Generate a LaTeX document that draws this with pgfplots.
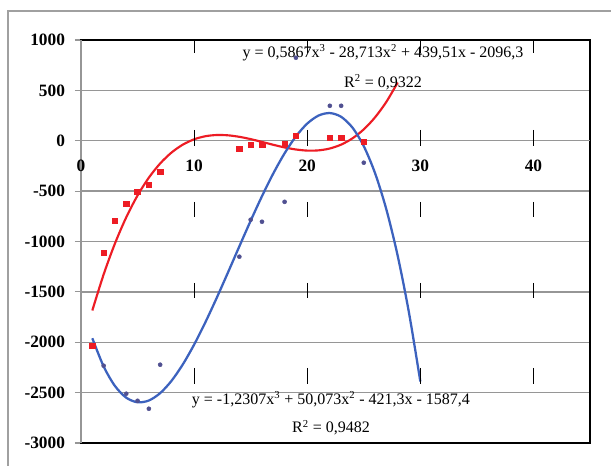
\documentclass[border=0pt]{standalone}
\usepackage{pgfplots}
\pgfplotsset{compat=1.18}
\usepackage{fontspec}
\setmainfont{Liberation Serif}
\definecolor{redc}{RGB}{237,28,36}
\definecolor{bluec}{RGB}{60,98,190}
\definecolor{dotc}{RGB}{80,80,145}
\definecolor{gridgray}{RGB}{150,150,150}
\definecolor{framegray}{RGB}{160,160,160}
\begin{document}
\begin{tikzpicture}
\begin{scope}[x=0.75pt,y=0.75pt]
\useasboundingbox (0,0) rectangle (611,466);
\fill[white] (0,0) rectangle (611,466);
\draw[framegray, line width=1.2pt] (8,0) -- (8,455) -- (611,455);
\end{scope}
\begin{axis}[
  at={(60.75pt,17.25pt)}, anchor=south west,
  scale only axis, width=381.75pt, height=302.25pt,
  xmin=0, xmax=45, ymin=-3000, ymax=1000,
  xtick=\empty,
  ytick={-3000,-2500,-2000,-1500,-1000,-500,0,500,1000},
  yticklabels={-3000,-2500,-2000,-1500,-1000,-500,0,500,1000},
  yticklabel style={font=\bfseries\fontsize{13}{15}\selectfont, xshift=-4pt},
  tick align=outside, ytick pos=left,
  major tick length=4.5pt,
  tick style={gridgray, line width=0.9pt},
  ymajorgrids, grid style={gridgray, line width=1pt},
  axis line style={black, line width=0.8pt},
  clip=false,
]
\draw[gridgray, line width=1.1pt] (axis cs:0,-3000) -- (axis cs:0,1000);
\draw[gridgray, line width=1.1pt] (axis cs:0,0) -- (axis cs:45,0);
% red squares
\addplot[only marks, mark=square*, mark size=2.1pt, mark options={draw=redc, fill=redc}] coordinates {
(1,-2035)(2,-1112)(3,-794)(4,-625)(5,-506)(6,-437)(7,-308)
(14,-79)(15,-40)(16,-40)(18,-30)(19,50)(22,30)(23,30)(25,-10)};
% blue dots
\addplot[only marks, mark=*, mark size=1.5pt, mark options={draw=dotc, fill=dotc}] coordinates {
(2,-2233)(4,-2511)(5,-2581)(6,-2660)(7,-2223)
(14,-1151)(15,-784)(16,-804)(18,-606)(19,824)(22,347)(23,347)(25,-218)};
% red trendline
\addplot[redc, line width=1.6pt, smooth, no marks] coordinates {
(1,-1684.92)(2,-1327.44)(3,-1020.35)(4,-760.12)(5,-543.24)(6,-366.18)(7,-225.43)
(8,-117.46)(9,-38.76)(10,14.2)(11,44.94)(12,56.97)(13,53.81)(14,39.0)(15,16.04)
(16,-11.55)(17,-40.23)(18,-66.50)(19,-86.83)(20,-97.7)(21,-95.59)(22,-76.99)
(23,-38.37)(24,23.79)(25,113.01)(26,232.81)(27,386.71)(28,578.23)};
% blue trendline
\addplot[bluec, line width=1.7pt, smooth, no marks] coordinates {
(1,-1959.86)(2,-2239.55)(3,-2433.87)(4,-2550.20)(5,-2595.91)(6,-2578.40)(7,-2505.05)
(8,-2383.25)(9,-2220.37)(10,-2023.8)(11,-1800.93)(12,-1559.14)(13,-1305.81)
(14,-1048.33)(15,-794.09)(16,-550.46)(17,-324.83)(18,-124.59)(19,42.88)(20,170.2)
(21,249.98)(22,274.84)(23,237.39)(24,130.25)(25,-53.96)(26,-322.63)(27,-683.15)
(28,-1142.9)(29,-1709.25)(30,-2389.6)};
% x tick labels
\node[anchor=north, inner sep=0pt, font=\bfseries\fontsize{13}{15}\selectfont, yshift=-14pt] at (axis cs:0,0) {0};
\node[anchor=north, inner sep=0pt, font=\bfseries\fontsize{13}{15}\selectfont, yshift=-14pt] at (axis cs:10,0) {10};
\node[anchor=north, inner sep=0pt, font=\bfseries\fontsize{13}{15}\selectfont, yshift=-14pt] at (axis cs:20,0) {20};
\node[anchor=north, inner sep=0pt, font=\bfseries\fontsize{13}{15}\selectfont, yshift=-14pt] at (axis cs:30,0) {30};
\node[anchor=north, inner sep=0pt, font=\bfseries\fontsize{13}{15}\selectfont, yshift=-14pt] at (axis cs:40,0) {40};
% equations
\node[font=\fontsize{12}{14}\selectfont, inner sep=0pt] at (axis cs:26.7,873) {y = 0,5867x\textsuperscript{3} - 28,713x\textsuperscript{2} + 439,51x - 2096,3};
\node[font=\fontsize{12}{14}\selectfont, inner sep=0pt] at (axis cs:26.7,585) {R\textsuperscript{2} = 0,9322};
\node[font=\fontsize{12}{14}\selectfont, inner sep=0pt] at (axis cs:22.1,-2571) {y = -1,2307x\textsuperscript{3} + 50,073x\textsuperscript{2} - 421,3x - 1587,4};
\node[font=\fontsize{12}{14}\selectfont, inner sep=0pt] at (axis cs:22.1,-2849) {R\textsuperscript{2} = 0,9482};
\end{axis}
\begin{scope}[x=0.75pt,y=0.75pt]
\foreach \px in {194.1,307.2,420.3,533.4} {
  \foreach \ya/\yb in {40/53,130/146,202/217,283/298,368/384} {
    \draw[black, line width=0.8pt] (\px,466-\ya) -- (\px,466-\yb);
  }
}
\end{scope}
\end{tikzpicture}
\end{document}
